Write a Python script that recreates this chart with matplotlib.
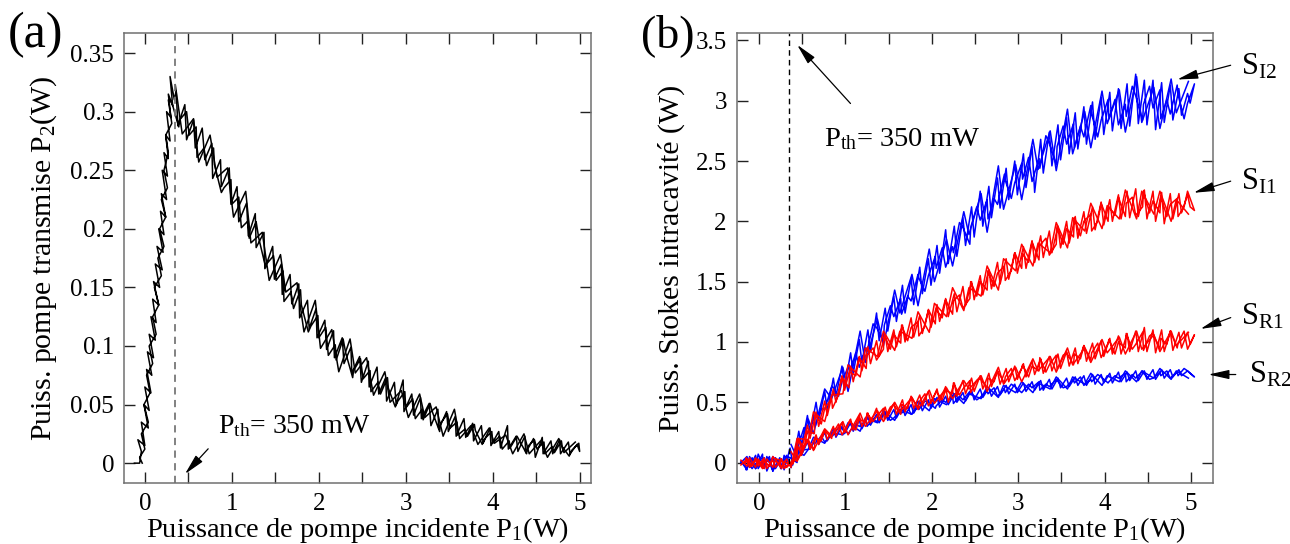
import matplotlib
matplotlib.use("Agg")
import matplotlib.pyplot as plt
from matplotlib.ticker import MultipleLocator

plt.rcParams['font.family'] = ['Liberation Serif', 'DejaVu Serif']
plt.rcParams['mathtext.fontset'] = 'custom'
plt.rcParams['mathtext.rm'] = 'Liberation Serif'
plt.rcParams['mathtext.it'] = 'Liberation Serif:italic'

# ---------------- (a) transmitted pump P2 vs incident pump P1 ----------------
p1_rise = [-0.12, -0.06, -0.04, -0.08, 0.0, -0.04, 0.04, -0.01, 0.05, 0.0,
           0.07, 0.02, 0.08, 0.03, 0.1, 0.05, 0.12, 0.07, 0.13, 0.09,
           0.16, 0.1, 0.17, 0.12, 0.2, 0.14, 0.21, 0.16, 0.22, 0.18,
           0.24, 0.19, 0.25, 0.2, 0.26, 0.22, 0.27, 0.24, 0.29, 0.25,
           0.3, 0.27, 0.32, 0.29, 0.34]
p2_rise = [0.0, 0.0, 0.01, 0.02, 0.015, 0.035, 0.03, 0.05, 0.045, 0.065,
           0.06, 0.08, 0.075, 0.095, 0.09, 0.11, 0.105, 0.125, 0.12, 0.14,
           0.135, 0.155, 0.15, 0.17, 0.165, 0.185, 0.18, 0.2, 0.195, 0.215,
           0.21, 0.23, 0.225, 0.25, 0.245, 0.265, 0.26, 0.28, 0.275, 0.3,
           0.295, 0.315, 0.305, 0.33, 0.31]
p1_fall = [0.36, 0.38, 0.46, 0.48, 0.56, 0.58, 0.66, 0.69, 0.77, 0.78,
           0.87, 0.88, 0.97, 0.99, 1.06, 1.08, 1.17, 1.19, 1.27, 1.28,
           1.37, 1.38, 1.47, 1.49, 1.57, 1.58, 1.67, 1.69, 1.77, 1.78,
           1.87, 1.89, 1.97, 1.98, 2.07, 2.09, 2.17, 2.18, 2.27, 2.29,
           2.37, 2.38, 2.47, 2.49, 2.57, 2.58, 2.67, 2.69, 2.77, 2.78,
           2.87, 2.89, 2.97, 2.98, 3.07, 3.09, 3.17, 3.18, 3.27, 3.29,
           3.37, 3.38, 3.47, 3.49, 3.57, 3.58, 3.67, 3.69, 3.77, 3.78,
           3.87, 3.89, 3.97, 3.98, 4.07, 4.09, 4.17, 4.18, 4.27, 4.29,
           4.37, 4.38, 4.47, 4.49, 4.57, 4.58, 4.67, 4.69, 4.77, 4.78,
           4.87, 4.89, 4.97, 5.00]
p2_fall = [0.318, 0.288, 0.306, 0.276, 0.293, 0.269, 0.286, 0.259, 0.273, 0.243,
           0.259, 0.236, 0.252, 0.221, 0.236, 0.206, 0.222, 0.194, 0.213, 0.184,
           0.197, 0.166, 0.185, 0.157, 0.170, 0.144, 0.161, 0.136, 0.153, 0.124,
           0.139, 0.115, 0.132, 0.107, 0.122, 0.097, 0.113, 0.090, 0.107, 0.085,
           0.099, 0.077, 0.091, 0.069, 0.087, 0.065, 0.082, 0.059, 0.073, 0.053,
           0.069, 0.050, 0.071, 0.044, 0.059, 0.041, 0.056, 0.038, 0.051, 0.032,
           0.046, 0.029, 0.044, 0.027, 0.040, 0.023, 0.038, 0.022, 0.034, 0.019,
           0.032, 0.017, 0.030, 0.015, 0.027, 0.013, 0.032, 0.012, 0.023, 0.010,
           0.023, 0.009, 0.021, 0.005, 0.022, 0.008, 0.019, 0.008, 0.020, 0.008,
           0.018, 0.008, 0.016, 0.010]
# return scan (5 W back to threshold)
p1_back = [4.99, 4.91, 4.88, 4.80, 4.79, 4.71, 4.68, 4.60, 4.59, 4.51,
           4.48, 4.40, 4.39, 4.31, 4.28, 4.20, 4.19, 4.11, 4.08, 4.00,
           3.99, 3.91, 3.88, 3.80, 3.79, 3.71, 3.68, 3.60, 3.59, 3.51,
           3.48, 3.40, 3.39, 3.31, 3.28, 3.20, 3.19, 3.11, 3.08, 3.00,
           2.99, 2.91, 2.88, 2.80, 2.79, 2.71, 2.68, 2.60, 2.59, 2.51,
           2.48, 2.40, 2.39, 2.31, 2.28, 2.20, 2.19, 2.11, 2.08, 2.00,
           1.99, 1.91, 1.88, 1.80, 1.79, 1.71, 1.68, 1.60, 1.59, 1.51,
           1.48, 1.40, 1.39, 1.31, 1.28, 1.20, 1.19, 1.11, 1.08, 1.00,
           0.99, 0.91, 0.88, 0.80, 0.79, 0.71, 0.68, 0.60, 0.59, 0.51,
           0.48, 0.40, 0.39, 0.31]
p2_back = [0.017, 0.011, 0.006, 0.014, 0.019, 0.009, 0.014, 0.008, 0.018, 0.012,
           0.020, 0.014, 0.008, 0.019, 0.023, 0.013, 0.019, 0.012, 0.023, 0.017,
           0.027, 0.021, 0.016, 0.028, 0.033, 0.023, 0.029, 0.024, 0.035, 0.030,
           0.042, 0.034, 0.027, 0.043, 0.051, 0.037, 0.046, 0.038, 0.055, 0.047,
           0.061, 0.053, 0.048, 0.064, 0.073, 0.059, 0.069, 0.061, 0.079, 0.072,
           0.089, 0.079, 0.073, 0.094, 0.106, 0.088, 0.101, 0.092, 0.116, 0.107,
           0.126, 0.117, 0.112, 0.135, 0.148, 0.132, 0.146, 0.138, 0.164, 0.156,
           0.177, 0.170, 0.167, 0.192, 0.206, 0.192, 0.207, 0.201, 0.227, 0.221,
           0.242, 0.235, 0.231, 0.255, 0.269, 0.254, 0.269, 0.261, 0.287, 0.280,
           0.300, 0.293, 0.287, 0.308]
p1_down = [0.27, 0.31, 0.24, 0.27, 0.22, 0.26, 0.19, 0.24, 0.17, 0.22,
           0.15, 0.19, 0.11, 0.16, 0.09, 0.13, 0.05, 0.09, 0.02, 0.06,
           -0.01, 0.04, -0.04, 0.0, -0.06, -0.03]
p2_down = [0.31, 0.29, 0.28, 0.265, 0.25, 0.235, 0.225, 0.21, 0.2, 0.185,
           0.175, 0.16, 0.15, 0.135, 0.125, 0.11, 0.1, 0.085, 0.075, 0.06,
           0.05, 0.035, 0.025, 0.012, 0.005, 0.0]
# third, coarser scan with larger excursions
p1_scan3 = [0.35, 0.43, 0.56, 0.62, 0.75, 0.83, 0.95, 1.02, 1.16, 1.22,
            1.35, 1.43, 1.56, 1.62, 1.75, 1.83, 1.96, 2.02, 2.15, 2.23,
            2.36, 2.42, 2.55, 2.63, 2.76, 2.82, 2.95, 3.03, 3.16, 3.22,
            3.35, 3.43, 3.56, 3.62, 3.75, 3.83, 3.96, 4.02, 4.15, 4.23,
            4.36, 4.42, 4.55, 4.63, 4.76, 4.82, 4.95]
p2_scan3 = [0.323, 0.281, 0.294, 0.257, 0.280, 0.244, 0.252, 0.210, 0.232, 0.188,
            0.197, 0.156, 0.178, 0.146, 0.154, 0.112, 0.139, 0.098, 0.114, 0.078,
            0.106, 0.077, 0.090, 0.058, 0.078, 0.052, 0.062, 0.039, 0.059, 0.039,
            0.048, 0.023, 0.046, 0.021, 0.032, 0.016, 0.030, 0.017, 0.024, 0.008,
            0.025, 0.008, 0.019, 0.005, 0.021, 0.009, 0.018]

# ---------------- (b) intracavity Stokes powers ----------------
p1_b = [-0.21, -0.14, -0.11, -0.04, -0.01, 0.06, 0.09, 0.16, 0.19, 0.26,
        0.29, 0.36, 0.39, 0.46, 0.49, 0.56, 0.59, 0.66, 0.69, 0.76,
        0.79, 0.86, 0.89, 0.96, 0.99, 1.06, 1.09, 1.16, 1.19, 1.26,
        1.29, 1.36, 1.39, 1.46, 1.49, 1.56, 1.59, 1.66, 1.69, 1.76,
        1.79, 1.86, 1.89, 1.96, 1.99, 2.06, 2.09, 2.16, 2.19, 2.26,
        2.29, 2.36, 2.39, 2.46, 2.49, 2.56, 2.59, 2.66, 2.69, 2.76,
        2.79, 2.86, 2.89, 2.96, 2.99, 3.06, 3.09, 3.16, 3.19, 3.26,
        3.29, 3.36, 3.39, 3.46, 3.49, 3.56, 3.59, 3.66, 3.69, 3.76,
        3.79, 3.86, 3.89, 3.96, 3.99, 4.06, 4.09, 4.16, 4.19, 4.26,
        4.29, 4.36, 4.39, 4.46, 4.49, 4.56, 4.59, 4.66, 4.69, 4.76,
        4.79, 4.86, 4.89, 4.96, 4.99]
p1_b_back = [5.04, 4.96, 4.92, 4.85, 4.84, 4.76, 4.72, 4.65, 4.64, 4.56,
             4.52, 4.45, 4.44, 4.36, 4.32, 4.25, 4.24, 4.16, 4.12, 4.05,
             4.04, 3.96, 3.92, 3.85, 3.84, 3.76, 3.72, 3.65, 3.64, 3.56,
             3.52, 3.45, 3.44, 3.36, 3.32, 3.25, 3.24, 3.16, 3.12, 3.05,
             3.04, 2.96, 2.92, 2.85, 2.84, 2.76, 2.72, 2.65, 2.64, 2.56,
             2.52, 2.45, 2.44, 2.36, 2.32, 2.25, 2.24, 2.16, 2.12, 2.05,
             2.04, 1.96, 1.92, 1.85, 1.84, 1.76, 1.72, 1.65, 1.64, 1.56,
             1.52, 1.45, 1.44, 1.36, 1.32, 1.25, 1.24, 1.16, 1.12, 1.05,
             1.04, 0.96, 0.92, 0.85, 0.84, 0.76, 0.72, 0.65, 0.64, 0.56,
             0.52, 0.45, 0.44, 0.36, 0.32, 0.25, 0.24, 0.16, 0.12, 0.05,
             0.04, -0.04, -0.08, -0.15, -0.16]
p1_b_scan3 = [0.37, 0.44, 0.57, 0.63, 0.76, 0.84, 0.97, 1.03, 1.17, 1.23,
              1.37, 1.44, 1.57, 1.63, 1.77, 1.84, 1.97, 2.03, 2.17, 2.24,
              2.37, 2.43, 2.57, 2.64, 2.77, 2.83, 2.97, 3.04, 3.17, 3.23,
              3.37, 3.44, 3.57, 3.63, 3.77, 3.84, 3.97, 4.03, 4.17, 4.24,
              4.37, 4.43, 4.57, 4.64, 4.77, 4.83, 4.97]

s_i2 = [0.0, 0.05, -0.04, 0.06, -0.05, 0.04, -0.07, 0.05, -0.05, 0.03,
        -0.06, 0.12, -0.02, 0.26, 0.13, 0.39, 0.24, 0.50, 0.35, 0.59,
        0.43, 0.70, 0.55, 0.80, 0.62, 0.91, 0.74, 1.02, 0.83, 1.10,
        0.92, 1.24, 1.01, 1.28, 1.09, 1.38, 1.17, 1.47, 1.24, 1.53,
        1.31, 1.62, 1.40, 1.69, 1.47, 1.80, 1.57, 1.93, 1.65, 1.96,
        1.71, 2.03, 1.80, 2.12, 1.87, 2.25, 1.96, 2.29, 2.03, 2.36,
        2.11, 2.44, 2.18, 2.50, 2.22, 2.56, 2.28, 2.62, 2.24, 2.68,
        2.40, 2.74, 2.46, 2.80, 2.51, 2.86, 2.56, 2.90, 2.60, 2.95,
        2.64, 2.99, 2.68, 3.03, 2.72, 3.07, 2.75, 3.10, 2.77, 3.14,
        2.79, 3.22, 2.81, 3.17, 2.80, 3.17, 2.76, 3.15, 2.82, 3.13,
        2.84, 3.10, 2.88, 3.06, 2.98]
s_i2_back = [3.14, 2.98, 2.85, 3.05, 3.13, 2.89, 3.01, 2.85, 3.09, 2.94,
             3.12, 2.97, 2.84, 3.04, 3.12, 2.87, 2.97, 2.80, 3.01, 2.85,
             3.01, 2.84, 2.70, 2.89, 2.96, 2.70, 2.79, 2.61, 2.81, 2.64,
             2.79, 2.62, 2.47, 2.65, 2.71, 2.44, 2.52, 2.33, 2.53, 2.35,
             2.48, 2.32, 2.19, 2.34, 2.39, 2.14, 2.19, 2.02, 2.18, 2.01,
             2.12, 1.95, 1.81, 1.95, 1.99, 1.74, 1.79, 1.62, 1.78, 1.61,
             1.71, 1.55, 1.42, 1.53, 1.56, 1.34, 1.38, 1.23, 1.36, 1.21,
             1.30, 1.14, 1.01, 1.12, 1.15, 0.92, 0.95, 0.79, 0.91, 0.75,
             0.81, 0.67, 0.55, 0.63, 0.63, 0.44, 0.45, 0.30, 0.38, 0.24,
             0.29, 0.13, 0.0, 0.04, 0.05, -0.03, 0.01, -0.05, 0.03, -0.02,
             0.04, -0.01, -0.05, 0.02, 0.0]
s_i2_scan3 = [0.15, 0.04, 0.36, 0.24, 0.61, 0.53, 0.79, 0.59, 1.09, 0.83,
              1.19, 0.97, 1.43, 1.24, 1.56, 1.30, 1.77, 1.50, 1.85, 1.63,
              2.08, 1.89, 2.23, 1.91, 2.46, 2.10, 2.47, 2.18, 2.68, 2.43,
              2.75, 2.42, 2.93, 2.56, 2.91, 2.61, 3.08, 2.81, 3.09, 2.74,
              3.20, 2.82, 3.11, 2.77, 3.18, 2.90, 3.16]
s_i1 = [0.02, -0.03, 0.04, -0.04, 0.03, -0.05, 0.03, -0.04, 0.02, -0.05,
        0.01, -0.02, -0.01, 0.20, 0.10, 0.31, 0.20, 0.42, 0.30, 0.51,
        0.39, 0.61, 0.50, 0.72, 0.60, 0.80, 0.67, 0.88, 0.76, 0.96,
        0.82, 1.01, 0.88, 1.06, 0.92, 1.10, 0.96, 1.14, 1.00, 1.20,
        1.04, 1.22, 1.07, 1.26, 1.12, 1.31, 1.17, 1.36, 1.21, 1.40,
        1.25, 1.46, 1.30, 1.50, 1.35, 1.55, 1.39, 1.60, 1.44, 1.66,
        1.48, 1.69, 1.52, 1.74, 1.57, 1.79, 1.61, 1.84, 1.66, 1.88,
        1.70, 1.92, 1.74, 1.96, 1.78, 2.00, 1.82, 2.04, 1.86, 2.08,
        1.90, 2.12, 1.93, 2.16, 1.97, 2.18, 2.00, 2.22, 2.02, 2.25,
        2.03, 2.27, 2.04, 2.26, 2.02, 2.25, 2.00, 2.24, 1.98, 2.23,
        2.02, 2.23, 2.07, 2.22, 2.12]
s_i1_back = [2.09, 2.25, 2.12, 2.04, 2.19, 2.14, 2.04, 2.21, 2.07, 2.17,
             2.07, 2.25, 2.12, 2.05, 2.20, 2.15, 2.04, 2.20, 2.05, 2.12,
             2.00, 2.15, 2.00, 1.92, 2.06, 2.00, 1.88, 2.03, 1.87, 1.94,
             1.81, 1.96, 1.81, 1.72, 1.86, 1.80, 1.68, 1.83, 1.66, 1.73,
             1.61, 1.74, 1.59, 1.51, 1.63, 1.57, 1.46, 1.59, 1.43, 1.50,
             1.38, 1.50, 1.36, 1.28, 1.39, 1.34, 1.23, 1.35, 1.20, 1.27,
             1.15, 1.27, 1.13, 1.05, 1.17, 1.12, 1.01, 1.14, 0.99, 1.06,
             0.94, 1.06, 0.94, 0.85, 0.95, 0.89, 0.78, 0.87, 0.72, 0.75,
             0.62, 0.71, 0.56, 0.45, 0.53, 0.45, 0.32, 0.40, 0.24, 0.26,
             0.12, 0.20, 0.04, -0.03, 0.03, -0.04, 0.02, 0.04, -0.03, 0.01,
             -0.05, 0.03, -0.02, 0.04, 0.0]
s_i1_scan3 = [-0.04, 0.20, 0.19, 0.42, 0.34, 0.56, 0.57, 0.81, 0.71, 0.95,
              0.88, 1.09, 0.93, 1.09, 1.03, 1.25, 1.08, 1.32, 1.21, 1.45,
              1.26, 1.45, 1.38, 1.63, 1.43, 1.69, 1.59, 1.81, 1.63, 1.82,
              1.74, 1.99, 1.78, 2.03, 1.92, 2.15, 1.94, 2.13, 2.02, 2.26,
              2.02, 2.25, 2.06, 2.25, 2.00, 2.18, 2.06]
s_r1 = [-0.02, 0.03, -0.04, 0.02, -0.03, 0.04, -0.05, 0.02, -0.04, 0.03,
        -0.05, 0.0, 0.0, 0.13, 0.06, 0.19, 0.11, 0.23, 0.15, 0.27,
        0.19, 0.30, 0.22, 0.33, 0.25, 0.36, 0.27, 0.39, 0.30, 0.41,
        0.33, 0.45, 0.35, 0.46, 0.38, 0.49, 0.40, 0.52, 0.42, 0.54,
        0.45, 0.56, 0.47, 0.59, 0.49, 0.61, 0.51, 0.63, 0.50, 0.66,
        0.55, 0.68, 0.57, 0.70, 0.59, 0.72, 0.61, 0.74, 0.63, 0.76,
        0.65, 0.78, 0.67, 0.80, 0.69, 0.82, 0.71, 0.84, 0.73, 0.86,
        0.74, 0.88, 0.76, 0.90, 0.78, 0.92, 0.80, 0.95, 0.82, 0.97,
        0.84, 0.99, 0.86, 1.01, 0.88, 1.03, 0.90, 1.05, 0.90, 1.07,
        0.92, 1.09, 0.92, 1.12, 0.92, 1.10, 0.91, 1.10, 0.92, 1.09,
        0.93, 1.08, 0.95, 1.08, 0.98]
s_r1_back = [1.06, 0.94, 1.09, 0.99, 0.95, 1.09, 0.98, 1.03, 0.94, 1.07,
             1.05, 0.93, 1.08, 0.98, 0.94, 1.07, 0.95, 1.00, 0.90, 1.02,
             0.99, 0.87, 0.99, 0.91, 0.85, 0.97, 0.86, 0.90, 0.81, 0.91,
             0.89, 0.77, 0.89, 0.81, 0.75, 0.87, 0.76, 0.80, 0.71, 0.81,
             0.78, 0.68, 0.78, 0.71, 0.66, 0.76, 0.67, 0.70, 0.62, 0.70,
             0.68, 0.58, 0.68, 0.61, 0.56, 0.66, 0.57, 0.60, 0.52, 0.59,
             0.57, 0.47, 0.57, 0.50, 0.45, 0.55, 0.45, 0.48, 0.40, 0.48,
             0.46, 0.36, 0.45, 0.38, 0.34, 0.41, 0.33, 0.36, 0.27, 0.35,
             0.33, 0.23, 0.32, 0.24, 0.20, 0.27, 0.18, 0.20, 0.11, 0.18,
             0.14, 0.03, 0.09, -0.01, -0.04, 0.03, -0.02, 0.05, -0.03, 0.02,
             -0.04, 0.04, -0.03, 0.01, 0.0]
s_r1_scan3 = [0.09, 0.01, 0.19, 0.10, 0.28, 0.22, 0.34, 0.23, 0.41, 0.30,
              0.43, 0.34, 0.50, 0.42, 0.54, 0.44, 0.60, 0.49, 0.62, 0.53,
              0.68, 0.61, 0.72, 0.59, 0.79, 0.65, 0.79, 0.67, 0.86, 0.76,
              0.88, 0.75, 0.95, 0.81, 0.95, 0.83, 1.02, 0.91, 1.04, 0.90,
              1.09, 0.94, 1.06, 0.92, 1.09, 0.97, 1.08]
s_r2 = [0.01, -0.06, 0.05, -0.05, 0.07, -0.04, 0.05, -0.07, 0.04, -0.05,
        0.06, -0.02, 0.0, 0.11, 0.06, 0.17, 0.11, 0.21, 0.15, 0.25,
        0.18, 0.28, 0.21, 0.30, 0.24, 0.33, 0.26, 0.35, 0.28, 0.38,
        0.31, 0.40, 0.33, 0.42, 0.35, 0.44, 0.37, 0.46, 0.39, 0.48,
        0.41, 0.50, 0.43, 0.52, 0.45, 0.54, 0.46, 0.55, 0.48, 0.57,
        0.50, 0.58, 0.51, 0.60, 0.52, 0.61, 0.54, 0.62, 0.55, 0.63,
        0.56, 0.64, 0.57, 0.65, 0.58, 0.66, 0.59, 0.67, 0.60, 0.68,
        0.60, 0.69, 0.61, 0.70, 0.62, 0.70, 0.63, 0.71, 0.64, 0.72,
        0.64, 0.73, 0.65, 0.73, 0.66, 0.74, 0.66, 0.75, 0.67, 0.75,
        0.68, 0.76, 0.68, 0.76, 0.69, 0.77, 0.69, 0.77, 0.70, 0.77,
        0.71, 0.77, 0.72, 0.76, 0.74]
s_r2_back = [0.71, 0.76, 0.78, 0.72, 0.75, 0.70, 0.76, 0.72, 0.75, 0.70,
             0.69, 0.74, 0.76, 0.70, 0.73, 0.67, 0.74, 0.70, 0.72, 0.67,
             0.66, 0.71, 0.73, 0.67, 0.69, 0.64, 0.71, 0.66, 0.69, 0.63,
             0.62, 0.68, 0.69, 0.63, 0.65, 0.60, 0.67, 0.62, 0.65, 0.59,
             0.58, 0.63, 0.65, 0.58, 0.61, 0.55, 0.62, 0.57, 0.60, 0.54,
             0.52, 0.58, 0.59, 0.52, 0.55, 0.49, 0.55, 0.50, 0.52, 0.47,
             0.45, 0.50, 0.51, 0.44, 0.46, 0.40, 0.46, 0.41, 0.43, 0.37,
             0.35, 0.40, 0.41, 0.34, 0.36, 0.30, 0.35, 0.30, 0.32, 0.26,
             0.24, 0.28, 0.29, 0.22, 0.23, 0.17, 0.22, 0.16, 0.17, 0.10,
             0.06, 0.09, 0.07, -0.02, 0.06, -0.05, 0.04, -0.07, 0.05, -0.04,
             0.07, -0.05, 0.04, -0.06, 0.0]
s_r2_scan3 = [-0.04, 0.10, 0.11, 0.21, 0.16, 0.25, 0.23, 0.33, 0.26, 0.37,
              0.33, 0.43, 0.35, 0.44, 0.40, 0.51, 0.43, 0.53, 0.48, 0.58,
              0.49, 0.57, 0.53, 0.63, 0.54, 0.64, 0.58, 0.67, 0.58, 0.66,
              0.61, 0.71, 0.61, 0.71, 0.65, 0.74, 0.64, 0.72, 0.67, 0.76,
              0.67, 0.76, 0.70, 0.78, 0.69, 0.76, 0.70]

threshold = 0.35


def xy(x, y):
    n = min(len(x), len(y))
    return list(x[:n]), list(y[:n])


fig = plt.figure(figsize=(12.9, 5.44), dpi=100)
ax1 = fig.add_axes([0.0961, 0.112, 0.362, 0.827])
ax2 = fig.add_axes([0.571, 0.112, 0.369, 0.827])

for ax in (ax1, ax2):
    ax.tick_params(which='both', direction='in', top=True, right=True,
                   length=8, width=1, labelsize=18, pad=7, colors='#222222',
                   labelcolor='black')
    for sp in ax.spines.values():
        sp.set_color('#707070')
        sp.set_linewidth(1.1)
    ax.xaxis.set_major_locator(MultipleLocator(1))
    ax.xaxis.set_minor_locator(MultipleLocator(0.5))

LW = 1.1
ARROW = dict(arrowstyle='-|>,head_length=0.9,head_width=0.2', color='black',
             lw=0.9, mutation_scale=14)

# ----- panel (a)
xa, ya = [], []
for px, py in ((p1_rise, p2_rise), (p1_fall, p2_fall),
               (p1_back, p2_back), (p1_down, p2_down)):
    a, b = xy(px, py)
    xa += a
    ya += b
ax1.plot(xa, ya, color='black', lw=LW)
x3, y3 = xy(p1_scan3, p2_scan3)
ax1.plot(x3, y3, color='black', lw=LW)
ax1.axvline(threshold, color='#777777', lw=1.3, ls=(0, (4, 3)))
ax1.set_xlim(-0.24, 5.13)
ax1.set_ylim(-0.017, 0.367)
ax1.set_yticks([0, 0.05, 0.1, 0.15, 0.2, 0.25, 0.3, 0.35])
ax1.set_yticklabels(['0', '0.05', '0.1', '0.15', '0.2', '0.25', '0.3', '0.35'])
ax1.set_xticks([0, 1, 2, 3, 4, 5])
ax1.set_xlabel(r'Puissance de pompe incidente P$_1$(W)', fontsize=20.5, labelpad=0)
ax1.set_ylabel(r'Puiss. pompe transmise P$_2$(W)', fontsize=21.5, labelpad=8)
ax1.annotate('', xy=(0.44, -0.011), xytext=(0.75, 0.014),
             arrowprops=ARROW, annotation_clip=False)
ax1.text(0.84, 0.026, r'P$_{\rm th}$= 350 mW', fontsize=20, va='baseline', ha='left')
fig.text(0.006, 0.935, '(a)', fontsize=36, va='center', ha='left')

# ----- panel (b)
for yf, yb, y3s, col in ((s_i2, s_i2_back, s_i2_scan3, 'blue'),
                         (s_r2, s_r2_back, s_r2_scan3, 'blue'),
                         (s_i1, s_i1_back, s_i1_scan3, 'red'),
                         (s_r1, s_r1_back, s_r1_scan3, 'red')):
    x1, y1 = xy(p1_b, yf)
    x2, y2 = xy(p1_b_back, yb)
    ax2.plot(x1 + x2, y1 + y2, color=col, lw=LW)
    x3, y3 = xy(p1_b_scan3, y3s)
    ax2.plot(x3, y3, color=col, lw=LW)
ax2.axvline(threshold, color='black', lw=1.0, ls=(0, (4, 3)))
ax2.set_xlim(-0.26, 5.25)
ax2.set_ylim(-0.17, 3.56)
ax2.set_yticks([0, 0.5, 1, 1.5, 2, 2.5, 3, 3.5])
ax2.set_yticklabels(['0', '0.5', '1', '1.5', '2', '2.5', '3', '3.5'])
ax2.set_xticks([0, 1, 2, 3, 4, 5])
ax2.set_xlabel(r'Puissance de pompe incidente P$_1$(W)', fontsize=20.5, labelpad=0)
ax2.set_ylabel(r'Puiss. Stokes intracavité (W)', fontsize=21.5, labelpad=8)
ax2.annotate('', xy=(0.42, 3.48), xytext=(1.08, 2.96), arrowprops=ARROW)
ax2.text(0.75, 2.62, r'P$_{\rm th}$= 350 mW', fontsize=20.5, va='baseline', ha='left')

labels = [(r'S$_{\rm I2}$', (4.81, 3.17), (5.49, 3.30), (5.58, 3.22)),
          (r'S$_{\rm I1}$', (5.00, 2.23), (5.49, 2.34), (5.58, 2.26)),
          (r'S$_{\rm R1}$', (5.08, 1.10), (5.49, 1.21), (5.58, 1.145)),
          (r'S$_{\rm R2}$', (5.17, 0.73), (5.55, 0.73), (5.67, 0.665))]
for txt, tip, start, tpos in labels:
    ax2.annotate('', xy=tip, xytext=start, arrowprops=ARROW,
                 annotation_clip=False)
    ax2.text(tpos[0], tpos[1], txt, fontsize=22, va='baseline', ha='left',
             clip_on=False)
fig.text(0.497, 0.935, '(b)', fontsize=33, va='center', ha='left')

fig.savefig('out.png', dpi=100)
